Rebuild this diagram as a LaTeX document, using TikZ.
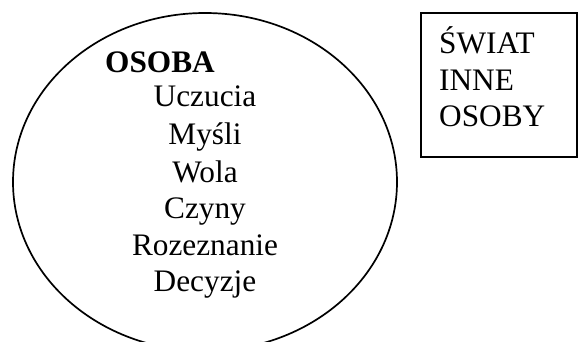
\documentclass[tikz,border=0pt]{standalone}
\usepackage{fontspec}
\setmainfont{Liberation Serif}
\usetikzlibrary{shapes.geometric}
\begin{document}
\begin{tikzpicture}[x=1pt,y=-1pt,
  outline/.style={draw=black,line width=1.7pt},
  label/.style={inner sep=0pt,font=\fontsize{31.3}{36.7}\selectfont},
  item/.style={label,anchor=base},
  boxline/.style={label,anchor=base west}]
  \useasboundingbox (0,0) rectangle (578,342);
  \clip (0,0) rectangle (578,342);
  % the person: an ellipse cut off by the lower edge
  \node[outline,ellipse,minimum width=384pt,minimum height=338pt,inner sep=0pt] (osoba) at (205,182) {};
  \node[boxline,font=\fontsize{31.3}{36.7}\selectfont\bfseries] (title) at (105,73) {OSOBA};
  \node[item] (uczucia) at (205,107) {Uczucia};
  \node[item] (mysli) at (205,145) {Myśli};
  \node[item] (wola) at (205,182) {Wola};
  \node[item] (czyny) at (205,218) {Czyny};
  \node[item] (rozeznanie) at (205,255) {Rozeznanie};
  \node[item] (decyzje) at (205,291) {Decyzje};
  % the surrounding world
  \node[outline,rectangle,minimum width=156pt,minimum height=144pt,inner sep=0pt] (swiat) at (499,85) {};
  \node[boxline] (l1) at (439,54) {ŚWIAT};
  \node[boxline] (l2) at (439,91) {INNE};
  \node[boxline] (l3) at (439,127) {OSOBY};
\end{tikzpicture}
\end{document}
